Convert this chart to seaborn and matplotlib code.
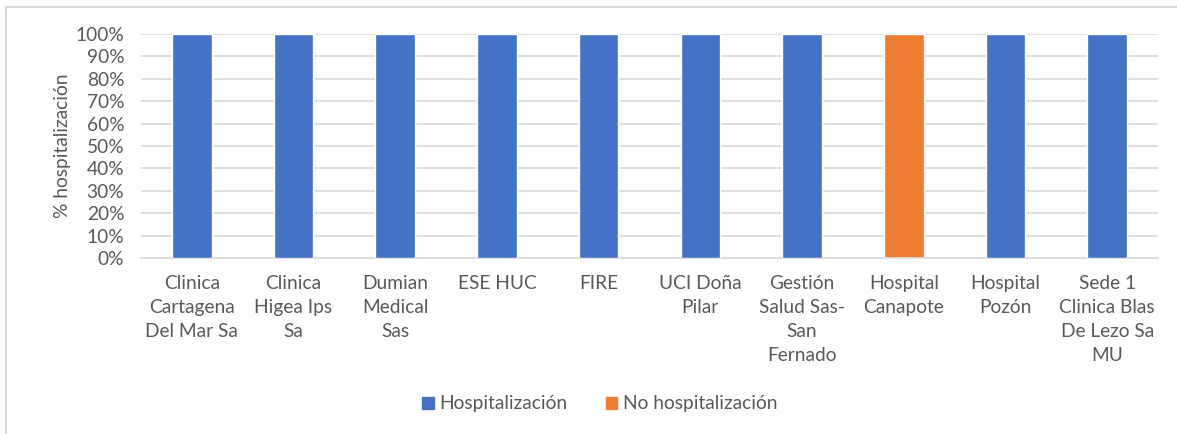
import matplotlib
matplotlib.use("Agg")
import matplotlib.pyplot as plt
import seaborn as sns
import pandas as pd
from matplotlib.patches import Patch, Rectangle
from matplotlib.ticker import PercentFormatter

categories = [
    "Clinica\nCartagena\nDel Mar Sa",
    "Clinica\nHigea Ips\nSa",
    "Dumian\nMedical\nSas",
    "ESE HUC",
    "FIRE",
    "UCI Doña\nPilar",
    "Gestión\nSalud Sas-\nSan\nFernado",
    "Hospital\nCanapote",
    "Hospital\nPozón",
    "Sede 1\nClinica Blas\nDe Lezo Sa\nMU",
]
hospitalizacion = [100, 100, 100, 100, 100, 100, 100, 0, 100, 100]
no_hospitalizacion = [0, 0, 0, 0, 0, 0, 0, 100, 0, 0]
y_ticks = [0, 10, 20, 30, 40, 50, 60, 70, 80, 90, 100]

BLUE = "#4472C4"
ORANGE = "#ED7D31"
TEXT = "#595959"
GRID = "#D9D9D9"
FS = 13.8

sns.set_theme(style="white")
plt.rcParams["font.family"] = ["Lato", "DejaVu Sans"]

df = pd.DataFrame({
    "cat": categories,
    "hosp": hospitalizacion,
    "total": [a + b for a, b in zip(hospitalizacion, no_hospitalizacion)],
})

fig = plt.figure(figsize=(11.77, 4.34), dpi=100)
ax = fig.add_axes([141 / 1177, 1 - 258 / 434, (1158 - 141) / 1177, (258 - 34) / 434])

sns.barplot(data=df, x="cat", y="total", color=ORANGE, saturation=1, width=0.39, ax=ax, zorder=2)
sns.barplot(data=df, x="cat", y="hosp", color=BLUE, saturation=1, width=0.39, ax=ax, zorder=3)

ax.set_ylim(0, 100)
ax.set_xlim(-0.5, len(categories) - 0.5)
ax.set_yticks(y_ticks)
ax.yaxis.set_major_formatter(PercentFormatter(decimals=0))
ax.yaxis.grid(True, color=GRID, linewidth=1.2, zorder=0)
ax.set_axisbelow(True)
for s in ["top", "right", "left"]:
    ax.spines[s].set_visible(False)
ax.spines["bottom"].set_color(GRID)
ax.spines["bottom"].set_linewidth(1.2)
ax.tick_params(axis="both", length=0, colors=TEXT, labelsize=FS)
ax.tick_params(axis="x", pad=12)
ax.tick_params(axis="y", pad=12)
for lbl in ax.get_xticklabels():
    lbl.set_linespacing(1.5)
ax.set_xlabel("")
ax.set_ylabel("% hospitalización", color=TEXT, fontsize=FS, labelpad=3)

handles = [Patch(color=BLUE, label="Hospitalización"), Patch(color=ORANGE, label="No hospitalización")]
fig.legend(handles=handles, loc="center", bbox_to_anchor=(600 / 1177, 1 - 404 / 434), ncol=2,
           frameon=False, fontsize=FS, labelcolor=TEXT, handlelength=0.6, handleheight=0.6,
           handletextpad=0.3, columnspacing=2.0)

fig.patches.append(Rectangle((6 / 1177, -0.1), 1.2, 1 - 7 / 434 + 0.1, transform=fig.transFigure,
                             fill=False, edgecolor="#D9D9D9", linewidth=1.5, zorder=-1))

fig.savefig("out.png", dpi=100)
